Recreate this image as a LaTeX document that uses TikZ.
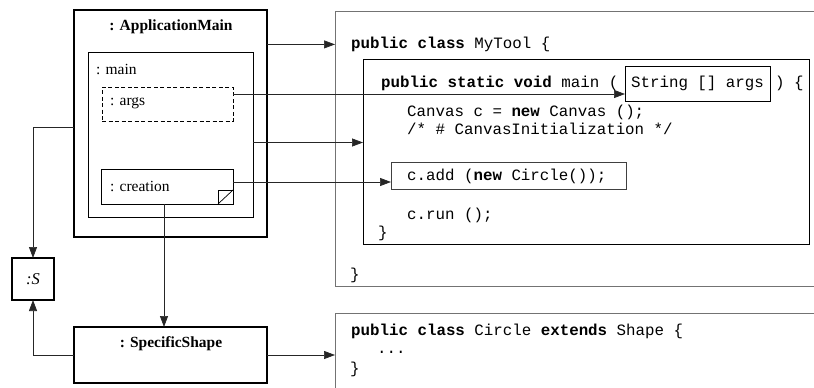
\documentclass[tikz,border=0pt]{standalone}
\usepackage{fontspec}
\setmainfont{Liberation Serif}
\setmonofont{Liberation Mono}
\usetikzlibrary{arrows.meta,positioning}

\begin{document}
\begin{tikzpicture}[x=1pt,y=-1pt,
    obj/.style = {draw, line width=#1, inner sep=0pt, outer sep=0pt, anchor=north west},
    obj/.default = 0.7pt,
    code/.style = {draw=black!55, line width=0.8pt, inner sep=0pt, outer sep=0pt, anchor=north west},
    lbl/.style = {font=\fontsize{15.5}{18}\selectfont, inner sep=0pt, anchor=west},
    title/.style = {font=\fontsize{15.5}{18}\selectfont\bfseries, inner sep=0pt},
    src/.style = {font=\fontsize{15.8}{19}\selectfont\ttfamily, inner sep=0pt, anchor=base west},
    conn/.style = {-{Triangle[length=11pt,width=8pt]}, line width=0.7pt, draw=black!85}]
    \useasboundingbox (0,0) rectangle (814,388);
    \clip (0,0) rectangle (814,388);
    % object side
    \node[obj=1.4pt, minimum width=193pt, minimum height=227pt] (app) at (74,10) {};
    \node[title] (apptitle) at (171,27) {: ApplicationMain};
    \node[obj, minimum width=165pt, minimum height=165pt] (main) at (88,52) {};
    \node[lbl] (mainlbl) at (96,69) {: main};
    \node[obj, dash pattern=on 4pt off 2.5pt, minimum width=131pt, minimum height=34pt] (args) at (102,87) {};
    \node[lbl] (argslbl) at (110,103) {: args};
    \node[obj, minimum width=132pt, minimum height=35pt] (creation) at (101,169) {};
    \node[lbl] (crealbl) at (110,186) {: creation};
    \node[obj, minimum width=15pt, minimum height=14pt] (corner) at (218,190) {};
    \draw[line width=0.7pt] (corner.south west) -- (corner.north east);
    \node[obj=1.2pt, minimum size=42pt, font=\fontsize{16.5}{18}\selectfont\itshape] (S) at (12,258) {:S};
    \node[obj=1.4pt, minimum width=193pt, minimum height=56pt] (spec) at (74,327) {};
    \node[title] (spectitle) at (171,344) {: SpecificShape};
    % code side
    \node[code, minimum width=500pt, minimum height=275pt] (mytool) at (335,11) {};
    \node[obj, minimum width=446pt, minimum height=185pt] (method) at (363,59) {};
    \node[obj, minimum width=145pt, minimum height=35pt] (strargs) at (625,66) {};
    \node[code, draw=black!75, minimum width=235pt, minimum height=27pt] (add) at (391,162) {};
    \node[code, minimum width=500pt, minimum height=100pt] (circle) at (335,313) {};
    \node[src] (l1) at (351,48.5) {\textbf{public class} MyTool \{};
    \node[src] (l2) at (381,87) {\textbf{public static void} main (};
    \node[src, anchor=base] (l2a) at (697.5,87) {String [] args};
    \node[src] (l2b) at (775,87) {) \{};
    \node[src] (l3) at (407,116.5) {Canvas c = \textbf{new} Canvas ();};
    \node[src] (l4) at (407,134.5) {/* \# CanvasInitialization */};
    \node[src] (l5) at (407,180.5) {c.add (\textbf{new} Circle());};
    \node[src] (l6) at (407,219.5) {c.run ();};
    \node[src] (l7) at (378,237.5) {\}};
    \node[src] (l8) at (350,279) {\}};
    \node[src] (c1) at (351,335.5) {\textbf{public class} Circle \textbf{extends} Shape \{};
    \node[src] (c2) at (377,353) {...};
    \node[src] (c3) at (350,373) {\}};
    % links
    \coordinate (argsout) at ([yshift=-7pt]args.north east);
    \coordinate (mainout) at ([yshift=-8pt]main.east);
    \coordinate (creaout) at ([yshift=4.5pt]creation.east);
    \coordinate (creadown) at ([xshift=-3pt]creation.south);
    \draw[conn] (app.east |- l1) -- (mytool.west |- l1);
    \draw[conn] (argsout) -- (argsout -| strargs.west);
    \draw[conn] (mainout) -- (mainout -| method.west);
    \draw[conn] (creaout) -- (creaout -| add.west);
    \draw[conn] (creadown) -- (creadown |- spec.north);
    \draw[conn] (spec.east) -- (circle.west |- spec.east);
    \draw[conn] ([yshift=-4pt]app.west) -| (S.north);
    \draw[conn] (spec.west) -| (S.south);
\end{tikzpicture}
\end{document}
